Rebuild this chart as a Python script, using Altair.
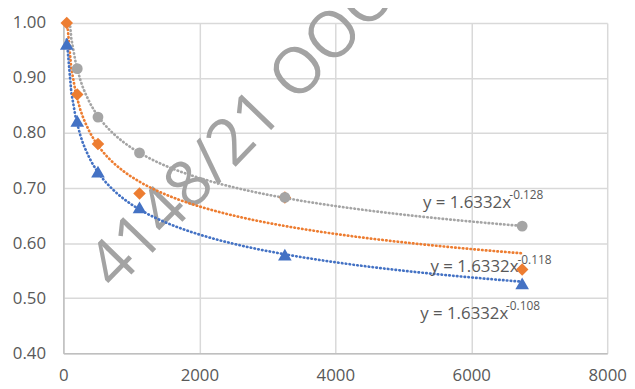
import altair as alt
import pandas as pd

# ---- data ----
series_names = ["gray", "orange", "blue"]
x_gray = [204, 509, 1120, 3258, 6749]
y_gray = [0.917, 0.829, 0.764, 0.683, 0.631]
# orange point at 3258 lies hidden under the grey circle
x_orange = [50, 204, 509, 1120, 3258, 6749]
y_orange = [1.00, 0.870, 0.780, 0.690, 0.683, 0.552]
x_blue = [50, 204, 509, 1120, 3258, 6749]
y_blue = [0.962, 0.822, 0.730, 0.665, 0.579, 0.527]

x_ticks = [0, 2000, 4000, 6000, 8000]
y_ticks = [0.40, 0.50, 0.60, 0.70, 0.80, 0.90, 1.00]

eq_main = ["y = 1.6332x", "y = 1.6332x", "y = 1.6332x"]
eq_exp = ["-0.128", "-0.118", "-0.108"]
eq_x = [5290, 5400, 5250]
eq_y = [0.664, 0.547, 0.463]
exp_x = [6560, 6680, 6510]
exp_y = [0.680, 0.563, 0.479]

watermark_text = ["4148/21 OOO"]
watermark_x = [760]
watermark_y = [0.512]

colors = ["#A5A5A5", "#ED7D31", "#4472C4"]

rows = []
for name, xs, ys in [("gray", x_gray, y_gray), ("orange", x_orange, y_orange), ("blue", x_blue, y_blue)]:
    for xv, yv in zip(xs, ys):
        rows.append({"series": name, "x": xv, "y": yv})
df = pd.DataFrame(rows)

eq_df = pd.DataFrame({"main": eq_main, "x": eq_x, "y": eq_y})
exp_df = pd.DataFrame({"exp": eq_exp, "x": exp_x, "y": exp_y})
wm_df = pd.DataFrame({"t": watermark_text, "x": watermark_x, "y": watermark_y})

FONT = "Open Sans"
xscale = alt.Scale(domain=[0, 8000], nice=False, zero=False)
yscale = alt.Scale(domain=[0.4, 1.0], nice=False, zero=False)

X = alt.X("x:Q", scale=xscale, title=None,
          axis=alt.Axis(values=x_ticks, format="d", labelFontSize=17, labelFont=FONT,
                        labelColor="#595959", ticks=False, labelPadding=15,
                        domainColor="#BFBFBF", domainWidth=1.5, gridColor="#D9D9D9",
                        gridWidth=1.5, labelFlush=False))
Y = alt.Y("y:Q", scale=yscale, title=None,
          axis=alt.Axis(values=y_ticks, format=".2f", labelFontSize=17, labelFont=FONT,
                        labelColor="#595959", ticks=False, labelPadding=18,
                        domainColor="#BFBFBF", domainWidth=1.5, gridColor="#D9D9D9",
                        gridWidth=1.5))
Xp = alt.X("x:Q", scale=xscale)
Yp = alt.Y("y:Q", scale=yscale)

base = alt.Chart(df)

watermark = alt.Chart(wm_df).mark_text(
    angle=314, fontSize=65, font=FONT, color="#A3A3A3", align="left",
    baseline="alphabetic"
).encode(x=Xp, y=Yp, text="t:N")

dot_style = dict(strokeDash=[0.5, 3.4], strokeWidth=2.7, strokeCap="round", clip=True)

def trend(name, extent):
    return base.transform_filter(alt.datum.series == name).transform_regression(
        "x", "y", method="pow", extent=extent
    ).mark_line(color=colors[series_names.index(name)], **dot_style).encode(x=X, y=Y)

line_gray = trend("gray", [x_orange[0], x_gray[-1]])
line_orange = trend("orange", [x_orange[0], x_orange[-1]])
line_blue = trend("blue", [x_blue[0], x_blue[-1]])

eq_text = alt.Chart(eq_df).mark_text(
    fontSize=17, font=FONT, color="#595959", align="left", baseline="alphabetic"
).encode(x=Xp, y=Yp, text="main:N")

exp_text = alt.Chart(exp_df).mark_text(
    fontSize=12, font=FONT, color="#595959", align="left", baseline="alphabetic"
).encode(x=Xp, y=Yp, text="exp:N")

def pts(name, shape, size):
    return base.transform_filter(alt.datum.series == name).mark_point(
        filled=True, shape=shape, size=size, opacity=1,
        color=colors[series_names.index(name)]
    ).encode(x=Xp, y=Yp)

points_orange = pts("orange", "diamond", 160)
points_gray = pts("gray", "circle", 120)
points_blue = pts("blue", "triangle-up", 190)

chart = alt.layer(
    watermark, line_gray, line_orange, line_blue, eq_text, exp_text,
    points_orange, points_gray, points_blue
).properties(
    width=550, height=334,
    padding={"left": 56, "top": 13, "right": 20, "bottom": 30},
    autosize=alt.AutoSizeParams(type="none"),
    background="white",
).configure_view(stroke=None)

chart.save("out.html", embed_options={"renderer": "svg", "actions": False})
